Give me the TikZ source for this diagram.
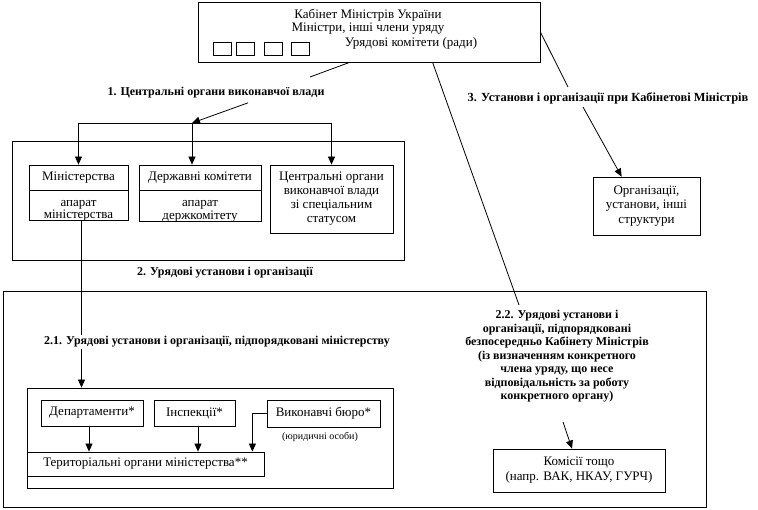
\documentclass[tikz,border=0pt]{standalone}
\usepackage{fontspec}
\setmainfont{Liberation Serif}
\usetikzlibrary{arrows.meta,calc}
\tikzset{
	box/.style={draw, inner sep=0pt, align=center, font=\fontsize{13}{14}\selectfont},
	txt/.style={inner sep=0pt, align=center, font=\fontsize{13}{14}\selectfont},
	lab/.style={inner sep=2pt, align=center, font=\fontsize{12}{13.5}\selectfont\bfseries},
	arr/.style={-{Triangle[length=8pt,width=7pt]}}
}
\begin{document}
\begin{tikzpicture}[x=1pt, y=-1pt, line width=0.8pt]
\useasboundingbox (0,0) rectangle (758,510);
\node[box, minimum width=342pt, minimum height=60pt] (cab) at (369,32) {};
\node[txt] (cabt) at (368,15) {Кабінет Міністрів України};
\node[txt] (mint) at (368,29) {Міністри, інші члени уряду};
\node[txt] (komt) at (411,43) {Урядові комітети (ради)};
\foreach \x [count=\i] in {222,245,273,300.5}
	{\node[box, minimum width=18pt, minimum height=13pt] (kb\i) at (\x,48.5) {};}
\node[lab] (l1) at (216,93) {1. Центральні органи виконавчої влади};
\coordinate (c1) at (310,77);
\coordinate (j1) at (192,123);
\draw ($(cab.south west)+(152,0)$) -- (c1);
\draw[arr] ($(l1.south)+(32,2)$) -- (j1);
\node[box, minimum width=392pt, minimum height=119pt] (g1) at (208,200.5) {};
\node[box, minimum width=99pt, minimum height=25pt] (min) at (78.5,177.5) {Міністерства};
\node[box, minimum width=99pt, minimum height=30pt, anchor=north] (minap) at (min.south) {};
\node[txt, font=\fontsize{13}{12.5}\selectfont] (minapt) at ([yshift=-5pt]minap.center) {апарат\\міністерства};
\node[box, minimum width=122pt, minimum height=25pt] (derzh) at (200,177.5) {Державні комітети};
\node[box, minimum width=122pt, minimum height=31pt, anchor=north] (derzhap) at (derzh.south) {};
\node[txt, font=\fontsize{13}{12.5}\selectfont] (derzhapt) at ([yshift=-5pt]derzhap.center) {апарат\\держкомітету};
\node[box, minimum width=123pt, minimum height=68pt] (cent) at (331.5,199) {Центральні органи\\виконавчої влади\\зі спеціальним\\статусом};
\draw (min.north |- j1) -- (cent.north |- j1);
\foreach \n/\s in {min/0pt, derzh/-8pt, cent/0pt}
	{\draw[arr] ([xshift=\s]\n.north |- j1) -- ([xshift=\s]\n.north);}
\node[lab] (l2) at (225,273) {2. Урядові установи і організації};
\node[box, minimum width=703pt, minimum height=216pt] (g2) at (354.5,399) {};
\node[box, minimum width=366pt, minimum height=100pt] (g21) at (210,438) {};
\coordinate (m1) at ([xshift=3pt]minap.south);
\draw[arr] (m1) -- (m1 |- g21.north);
\node[lab, fill=white] (l21) at (217,342) {2.1. Урядові установи і організації, підпорядковані міністерству};
\node[box, minimum width=102pt, minimum height=26pt] (dep) at (92,413) {Департаменти*};
\node[box, minimum width=81pt, minimum height=26pt] (insp) at (194.5,413) {Інспекції*};
\node[box, minimum width=113pt, minimum height=27pt] (vyk) at (323.5,413.5) {Виконавчі бюро*};
\node[inner sep=0pt, font=\fontsize{10}{11}\selectfont] (yur) at (320,437) {(юридичні особи)};
\node[box, minimum width=237pt, minimum height=24pt] (ter) at (145.5,464) {Територіальні органи міністерства**};
\coordinate (d1) at ([xshift=-3pt]dep.south);
\coordinate (i1) at ([xshift=3.5pt]insp.south);
\draw[arr] (d1) -- (d1 |- ter.north);
\draw[arr] (i1) -- (i1 |- ter.north);
\draw[arr] (vyk.west) -| ($(ter.north east)+(-12,0)$);
\coordinate (c3) at (568,87);
\draw (cab.east) -- (c3);
\node[lab, font=\fontsize{12.4}{13.5}\selectfont\bfseries] (l3) at (608,98) {3. Установи і організації при Кабінетові Міністрів};
\node[box, minimum width=107pt, minimum height=58pt, font=\fontsize{13}{14.5}\selectfont] (org) at (646.5,206) {Організації,\\установи, інші\\структури};
\coordinate (c4) at (583,107);
\draw[arr] (c4) -- ($(org.north west)+(29,0)$);
\coordinate (c5) at (519,305);
\draw ($(cab.south west)+(235,0)$) -- (c5);
\node[lab] (l22) at (557,356.5) {2.2. Урядові установи і\\організації, підпорядковані\\безпосередньо Кабінету Міністрів\\(із визначенням конкретного\\члена уряду, що несе\\відповідальність за роботу\\конкретного органу)};
\coordinate (c6) at (563,422);
\node[box, minimum width=172pt, minimum height=43pt, font=\fontsize{13}{15}\selectfont] (kom) at (579,470.5) {Комісії тощо\\(напр. ВАК, НКАУ, ГУРЧ)};
\draw[arr] (c6) -- ([xshift=-7pt]kom.north);
\end{tikzpicture}
\end{document}
